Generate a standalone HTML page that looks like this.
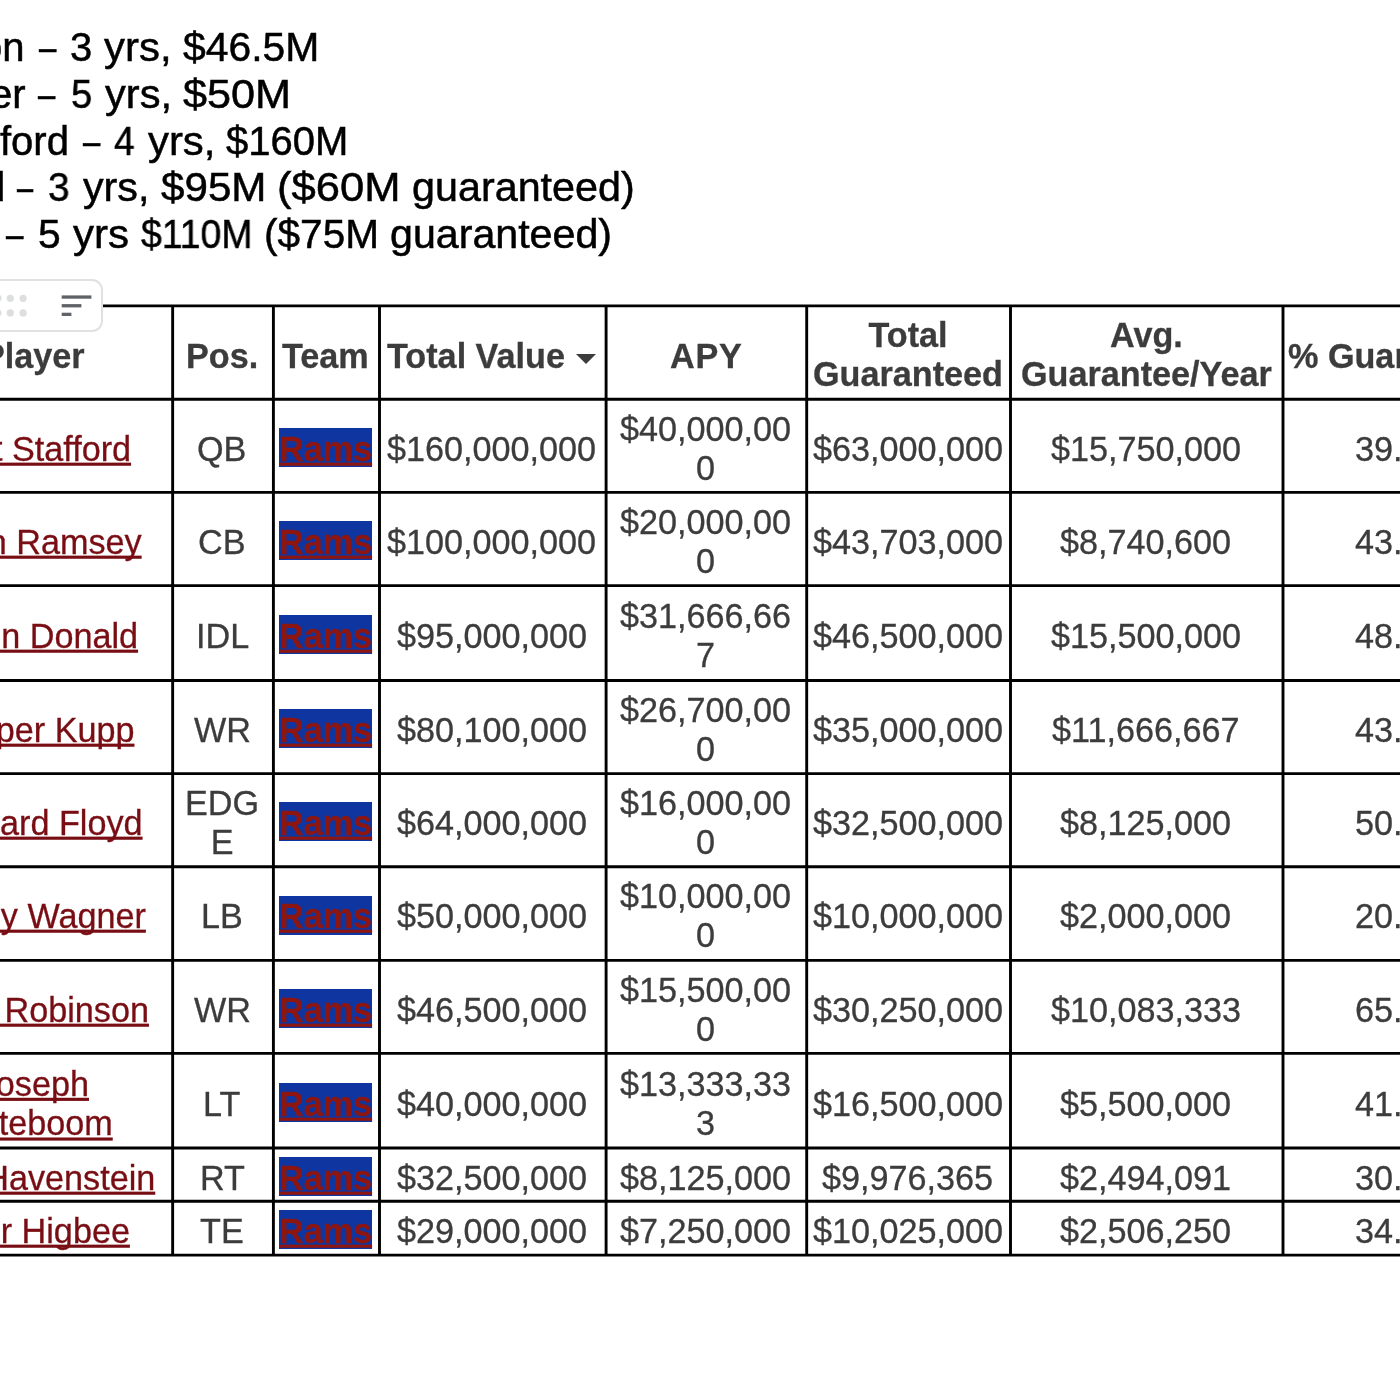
<!DOCTYPE html>
<html><head><meta charset="utf-8"><title>doc</title>
<style>
html,body{margin:0;padding:0;background:#fff;}
body{width:1400px;height:1400px;position:relative;overflow:hidden;font-family:"Liberation Sans",sans-serif;}
.ln{position:absolute;background:#000;}
.c{position:absolute;display:flex;align-items:center;justify-content:center;text-align:center;box-sizing:border-box;
 font-size:34.2px;line-height:38.134px;color:#3c3c3c;white-space:nowrap;-webkit-text-stroke:0.3px currentColor;}
.c>span{display:inline-block;will-change:transform;transform:scaleY(1.045);transform-origin:50% 50%;}
.h{font-weight:bold;}
.lk{color:#780e14;text-decoration:underline;text-decoration-thickness:2.5px;text-underline-offset:1.6px;text-decoration-skip-ink:none;}
.rm{color:#8e1611;font-weight:bold;text-decoration:underline;text-decoration-thickness:2.5px;text-underline-offset:1.6px;text-decoration-skip-ink:none;}
.bg{position:absolute;background:#0f36a0;}
.w{position:absolute;white-space:nowrap;color:#000;-webkit-text-stroke:0.5px #000;font-size:40px;line-height:46px;transform-origin:0 0;display:block;will-change:transform;}
</style></head><body>

<span class="w" style="left:-20.22px;top:24.40px;transform:scaleX(1.0000)">on</span>
<span class="w" style="left:38.52px;top:24.40px;transform:scaleX(0.7772)">–</span>
<span class="w" style="left:70.42px;top:24.40px;transform:scaleX(0.9963)">3</span>
<span class="w" style="left:103.74px;top:24.40px;transform:scaleX(1.0480)">yrs,</span>
<span class="w" style="left:183.12px;top:24.40px;transform:scaleX(1.0218)">$46.5M</span>
<span class="w" style="left:-9.62px;top:71.40px;transform:scaleX(1.0000)">er</span>
<span class="w" style="left:38.32px;top:71.40px;transform:scaleX(0.7729)">–</span>
<span class="w" style="left:70.96px;top:71.40px;transform:scaleX(0.9554)">5</span>
<span class="w" style="left:104.54px;top:71.40px;transform:scaleX(1.0399)">yrs,</span>
<span class="w" style="left:183.22px;top:71.40px;transform:scaleX(1.0797)">$50M</span>
<span class="w" style="left:0.36px;top:117.70px;transform:scaleX(1.0000)">ford</span>
<span class="w" style="left:83.02px;top:117.70px;transform:scaleX(0.7729)">–</span>
<span class="w" style="left:114.30px;top:117.70px;transform:scaleX(0.9265)">4</span>
<span class="w" style="left:148.04px;top:117.70px;transform:scaleX(1.0464)">yrs,</span>
<span class="w" style="left:226.32px;top:117.70px;transform:scaleX(1.0004)">$160M</span>
<span class="w" style="left:-16.93px;top:164.20px;transform:scaleX(1.0000)">d</span>
<span class="w" style="left:17.20px;top:164.20px;transform:scaleX(0.7192)">–</span>
<span class="w" style="left:48.29px;top:164.20px;transform:scaleX(0.9714)">3</span>
<span class="w" style="left:82.64px;top:164.20px;transform:scaleX(1.0309)">yrs,</span>
<span class="w" style="left:161.27px;top:164.20px;transform:scaleX(1.0540)">$95M</span>
<span class="w" style="left:276.86px;top:164.20px;transform:scaleX(1.0888)">($60M</span>
<span class="w" style="left:411.88px;top:164.20px;transform:scaleX(1.0327)">guaranteed)</span>
<span class="w" style="left:6.47px;top:210.60px;transform:scaleX(0.7836)">–</span>
<span class="w" style="left:38.46px;top:210.60px;transform:scaleX(1.0218)">5</span>
<span class="w" style="left:72.64px;top:210.60px;transform:scaleX(1.0504)">yrs</span>
<span class="w" style="left:141.26px;top:210.60px;transform:scaleX(0.9339)">$110M</span>
<span class="w" style="left:263.71px;top:210.60px;transform:scaleX(1.0141)">($75M</span>
<span class="w" style="left:390.38px;top:210.60px;transform:scaleX(1.0290)">guaranteed)</span>
<svg style="position:absolute;left:0;top:0" width="1400" height="1400" viewBox="0 0 1400 1400"><path d="M0 305.90H1400M0 399.25H1400M0 492.40H1400M0 585.60H1400M0 680.50H1400M0 773.60H1400M0 866.70H1400M0 960.40H1400M0 1053.40H1400M0 1148.00H1400M0 1201.20H1400M0 1255.10H1400M172.65 304.45V1256.55M273.40 304.45V1256.55M379.50 304.45V1256.55M606.10 304.45V1256.55M806.70 304.45V1256.55M1010.50 304.45V1256.55M1283.00 304.45V1256.55" fill="none" stroke="#000" stroke-width="2.9"/></svg>
<div class="c h" style="left:-102.8px;top:309.4px;width:273.1px;height:90.4px;"><span>Player</span></div>
<div class="c h" style="left:173.3px;top:309.4px;width:97.7px;height:90.4px;"><span>Pos.</span></div>
<div class="c h" style="left:274.1px;top:309.4px;width:103.1px;height:90.4px;"><span>Team</span></div>
<div class="c h" style="left:380.2px;top:309.4px;width:223.6px;height:90.4px;padding-right:32.2px;"><span>Total Value</span></div>
<div class="c h" style="left:606.8px;top:309.4px;width:197.6px;height:90.4px;"><span><span style="letter-spacing:0.8px;margin-right:-0.8px">APY</span></span></div>
<div class="c h" style="left:807.4px;top:309.4px;width:200.8px;height:90.4px;"><span>Total<br>Guaranteed</span></div>
<div class="c h" style="left:1011.2px;top:309.4px;width:269.5px;height:90.4px;"><span>Avg.<br>Guarantee/Year</span></div>
<svg style="position:absolute;left:576px;top:353.5px" width="20" height="10" viewBox="0 0 20 10"><path d="M0 0H20L10 10Z" fill="#3c3c3c"/></svg>
<div class="c h" style="left:1288.3px;top:309.4px;width:300px;height:90.4px;justify-content:flex-start;"><span>% Guaranteed</span></div>
<div class="c " style="left:-102.8px;top:402.8px;width:273.1px;height:90.1px;"><span><span class="lk">Matt Stafford</span></span></div>
<div class="c " style="left:173.3px;top:402.8px;width:97.7px;height:90.1px;"><span>QB</span></div>
<div class="bg" style="left:279px;top:427.9px;width:93px;height:39px;"></div>
<div class="c " style="left:274.1px;top:402.8px;width:103.1px;height:90.1px;"><span><span class="rm">Rams</span></span></div>
<div class="c " style="left:380.2px;top:402.8px;width:223.6px;height:90.1px;"><span>$160,000,000</span></div>
<div class="c " style="left:606.8px;top:402.8px;width:197.6px;height:90.1px;"><span>$40,000,00<br>0</span></div>
<div class="c " style="left:807.4px;top:402.8px;width:200.8px;height:90.1px;"><span>$63,000,000</span></div>
<div class="c " style="left:1011.2px;top:402.8px;width:269.5px;height:90.1px;"><span>$15,750,000</span></div>
<div class="c" style="left:1355.1px;top:402.8px;width:200px;height:90.1px;justify-content:flex-start;"><span>39.4%</span></div>
<div class="c " style="left:-102.8px;top:495.9px;width:273.1px;height:90.2px;"><span><span class="lk">Jalen Ramsey</span></span></div>
<div class="c " style="left:173.3px;top:495.9px;width:97.7px;height:90.2px;"><span>CB</span></div>
<div class="bg" style="left:279px;top:521.0px;width:93px;height:39px;"></div>
<div class="c " style="left:274.1px;top:495.9px;width:103.1px;height:90.2px;"><span><span class="rm">Rams</span></span></div>
<div class="c " style="left:380.2px;top:495.9px;width:223.6px;height:90.2px;"><span>$100,000,000</span></div>
<div class="c " style="left:606.8px;top:495.9px;width:197.6px;height:90.2px;"><span>$20,000,00<br>0</span></div>
<div class="c " style="left:807.4px;top:495.9px;width:200.8px;height:90.2px;"><span>$43,703,000</span></div>
<div class="c " style="left:1011.2px;top:495.9px;width:269.5px;height:90.2px;"><span>$8,740,600</span></div>
<div class="c" style="left:1355.1px;top:495.9px;width:200px;height:90.2px;justify-content:flex-start;"><span>43.7%</span></div>
<div class="c " style="left:-102.8px;top:589.1px;width:273.1px;height:91.9px;"><span><span class="lk">Aaron Donald</span></span></div>
<div class="c " style="left:173.3px;top:589.1px;width:97.7px;height:91.9px;"><span>IDL</span></div>
<div class="bg" style="left:279px;top:615.1px;width:93px;height:39px;"></div>
<div class="c " style="left:274.1px;top:589.1px;width:103.1px;height:91.9px;"><span><span class="rm">Rams</span></span></div>
<div class="c " style="left:380.2px;top:589.1px;width:223.6px;height:91.9px;"><span>$95,000,000</span></div>
<div class="c " style="left:606.8px;top:589.1px;width:197.6px;height:91.9px;"><span>$31,666,66<br>7</span></div>
<div class="c " style="left:807.4px;top:589.1px;width:200.8px;height:91.9px;"><span>$46,500,000</span></div>
<div class="c " style="left:1011.2px;top:589.1px;width:269.5px;height:91.9px;"><span>$15,500,000</span></div>
<div class="c" style="left:1355.1px;top:589.1px;width:200px;height:91.9px;justify-content:flex-start;"><span>48.9%</span></div>
<div class="c " style="left:-102.8px;top:684.0px;width:273.1px;height:90.1px;"><span><span class="lk">Cooper Kupp</span></span></div>
<div class="c " style="left:173.3px;top:684.0px;width:97.7px;height:90.1px;"><span>WR</span></div>
<div class="bg" style="left:279px;top:709.1px;width:93px;height:39px;"></div>
<div class="c " style="left:274.1px;top:684.0px;width:103.1px;height:90.1px;"><span><span class="rm">Rams</span></span></div>
<div class="c " style="left:380.2px;top:684.0px;width:223.6px;height:90.1px;"><span>$80,100,000</span></div>
<div class="c " style="left:606.8px;top:684.0px;width:197.6px;height:90.1px;"><span>$26,700,00<br>0</span></div>
<div class="c " style="left:807.4px;top:684.0px;width:200.8px;height:90.1px;"><span>$35,000,000</span></div>
<div class="c " style="left:1011.2px;top:684.0px;width:269.5px;height:90.1px;"><span>$11,666,667</span></div>
<div class="c" style="left:1355.1px;top:684.0px;width:200px;height:90.1px;justify-content:flex-start;"><span>43.7%</span></div>
<div class="c " style="left:-102.8px;top:777.1px;width:273.1px;height:90.1px;"><span><span class="lk">Leonard Floyd</span></span></div>
<div class="c " style="left:173.3px;top:777.1px;width:97.7px;height:90.1px;"><span>EDG<br>E</span></div>
<div class="bg" style="left:279px;top:802.2px;width:93px;height:39px;"></div>
<div class="c " style="left:274.1px;top:777.1px;width:103.1px;height:90.1px;"><span><span class="rm">Rams</span></span></div>
<div class="c " style="left:380.2px;top:777.1px;width:223.6px;height:90.1px;"><span>$64,000,000</span></div>
<div class="c " style="left:606.8px;top:777.1px;width:197.6px;height:90.1px;"><span>$16,000,00<br>0</span></div>
<div class="c " style="left:807.4px;top:777.1px;width:200.8px;height:90.1px;"><span>$32,500,000</span></div>
<div class="c " style="left:1011.2px;top:777.1px;width:269.5px;height:90.1px;"><span>$8,125,000</span></div>
<div class="c" style="left:1355.1px;top:777.1px;width:200px;height:90.1px;justify-content:flex-start;"><span>50.8%</span></div>
<div class="c " style="left:-102.8px;top:870.2px;width:273.1px;height:90.7px;"><span><span class="lk">Bobby Wagner</span></span></div>
<div class="c " style="left:173.3px;top:870.2px;width:97.7px;height:90.7px;"><span>LB</span></div>
<div class="bg" style="left:279px;top:895.6px;width:93px;height:39px;"></div>
<div class="c " style="left:274.1px;top:870.2px;width:103.1px;height:90.7px;"><span><span class="rm">Rams</span></span></div>
<div class="c " style="left:380.2px;top:870.2px;width:223.6px;height:90.7px;"><span>$50,000,000</span></div>
<div class="c " style="left:606.8px;top:870.2px;width:197.6px;height:90.7px;"><span>$10,000,00<br>0</span></div>
<div class="c " style="left:807.4px;top:870.2px;width:200.8px;height:90.7px;"><span>$10,000,000</span></div>
<div class="c " style="left:1011.2px;top:870.2px;width:269.5px;height:90.7px;"><span>$2,000,000</span></div>
<div class="c" style="left:1355.1px;top:870.2px;width:200px;height:90.7px;justify-content:flex-start;"><span>20.0%</span></div>
<div class="c " style="left:-102.8px;top:963.9px;width:273.1px;height:90.0px;"><span><span class="lk">Allen Robinson</span></span></div>
<div class="c " style="left:173.3px;top:963.9px;width:97.7px;height:90.0px;"><span>WR</span></div>
<div class="bg" style="left:279px;top:989.0px;width:93px;height:39px;"></div>
<div class="c " style="left:274.1px;top:963.9px;width:103.1px;height:90.0px;"><span><span class="rm">Rams</span></span></div>
<div class="c " style="left:380.2px;top:963.9px;width:223.6px;height:90.0px;"><span>$46,500,000</span></div>
<div class="c " style="left:606.8px;top:963.9px;width:197.6px;height:90.0px;"><span>$15,500,00<br>0</span></div>
<div class="c " style="left:807.4px;top:963.9px;width:200.8px;height:90.0px;"><span>$30,250,000</span></div>
<div class="c " style="left:1011.2px;top:963.9px;width:269.5px;height:90.0px;"><span>$10,083,333</span></div>
<div class="c" style="left:1355.1px;top:963.9px;width:200px;height:90.0px;justify-content:flex-start;"><span>65.1%</span></div>
<div class="c " style="left:-102.8px;top:1056.9px;width:273.1px;height:91.6px;"><span><span class="lk">Joseph<br>Noteboom</span></span></div>
<div class="c " style="left:173.3px;top:1056.9px;width:97.7px;height:91.6px;"><span>LT</span></div>
<div class="bg" style="left:279px;top:1082.8px;width:93px;height:39px;"></div>
<div class="c " style="left:274.1px;top:1056.9px;width:103.1px;height:91.6px;"><span><span class="rm">Rams</span></span></div>
<div class="c " style="left:380.2px;top:1056.9px;width:223.6px;height:91.6px;"><span>$40,000,000</span></div>
<div class="c " style="left:606.8px;top:1056.9px;width:197.6px;height:91.6px;"><span>$13,333,33<br>3</span></div>
<div class="c " style="left:807.4px;top:1056.9px;width:200.8px;height:91.6px;"><span>$16,500,000</span></div>
<div class="c " style="left:1011.2px;top:1056.9px;width:269.5px;height:91.6px;"><span>$5,500,000</span></div>
<div class="c" style="left:1355.1px;top:1056.9px;width:200px;height:91.6px;justify-content:flex-start;"><span>41.3%</span></div>
<div class="c " style="left:-102.8px;top:1151.5px;width:273.1px;height:50.2px;"><span><span class="lk">Rob Havenstein</span></span></div>
<div class="c " style="left:173.3px;top:1151.5px;width:97.7px;height:50.2px;"><span>RT</span></div>
<div class="bg" style="left:279px;top:1156.6px;width:93px;height:39px;"></div>
<div class="c " style="left:274.1px;top:1151.5px;width:103.1px;height:50.2px;"><span><span class="rm">Rams</span></span></div>
<div class="c " style="left:380.2px;top:1151.5px;width:223.6px;height:50.2px;"><span>$32,500,000</span></div>
<div class="c " style="left:606.8px;top:1151.5px;width:197.6px;height:50.2px;"><span>$8,125,000</span></div>
<div class="c " style="left:807.4px;top:1151.5px;width:200.8px;height:50.2px;"><span>$9,976,365</span></div>
<div class="c " style="left:1011.2px;top:1151.5px;width:269.5px;height:50.2px;"><span>$2,494,091</span></div>
<div class="c" style="left:1355.1px;top:1151.5px;width:200px;height:50.2px;justify-content:flex-start;"><span>30.7%</span></div>
<div class="c " style="left:-102.8px;top:1204.7px;width:273.1px;height:50.9px;"><span><span class="lk">Tyler Higbee</span></span></div>
<div class="c " style="left:173.3px;top:1204.7px;width:97.7px;height:50.9px;"><span>TE</span></div>
<div class="bg" style="left:279px;top:1210.2px;width:93px;height:39px;"></div>
<div class="c " style="left:274.1px;top:1204.7px;width:103.1px;height:50.9px;"><span><span class="rm">Rams</span></span></div>
<div class="c " style="left:380.2px;top:1204.7px;width:223.6px;height:50.9px;"><span>$29,000,000</span></div>
<div class="c " style="left:606.8px;top:1204.7px;width:197.6px;height:50.9px;"><span>$7,250,000</span></div>
<div class="c " style="left:807.4px;top:1204.7px;width:200.8px;height:50.9px;"><span>$10,025,000</span></div>
<div class="c " style="left:1011.2px;top:1204.7px;width:269.5px;height:50.9px;"><span>$2,506,250</span></div>
<div class="c" style="left:1355.1px;top:1204.7px;width:200px;height:50.9px;justify-content:flex-start;"><span>34.6%</span></div>
<div style="position:absolute;left:-20px;top:279px;width:119px;height:49px;border:2px solid #e1e1e1;border-radius:11px;background:#fff;box-sizing:content-box;"></div>
<svg style="position:absolute;left:0;top:279px" width="110" height="56" viewBox="0 279 110 56">
 <g fill="#dcdee0"><circle cx="-2" cy="298.3" r="3.6"/><circle cx="10.3" cy="298.3" r="3.6"/><circle cx="23.1" cy="298.3" r="3.6"/>
 <circle cx="-2" cy="312.9" r="3.6"/><circle cx="10.3" cy="312.9" r="3.6"/><circle cx="23.1" cy="312.9" r="3.6"/></g>
 <g fill="#5f6368"><rect x="61.7" y="295.4" width="29.7" height="3.3"/><rect x="61.7" y="304.1" width="19.7" height="3.3"/><rect x="61.7" y="312.7" width="9.7" height="3.3"/></g>
</svg>

</body></html>
